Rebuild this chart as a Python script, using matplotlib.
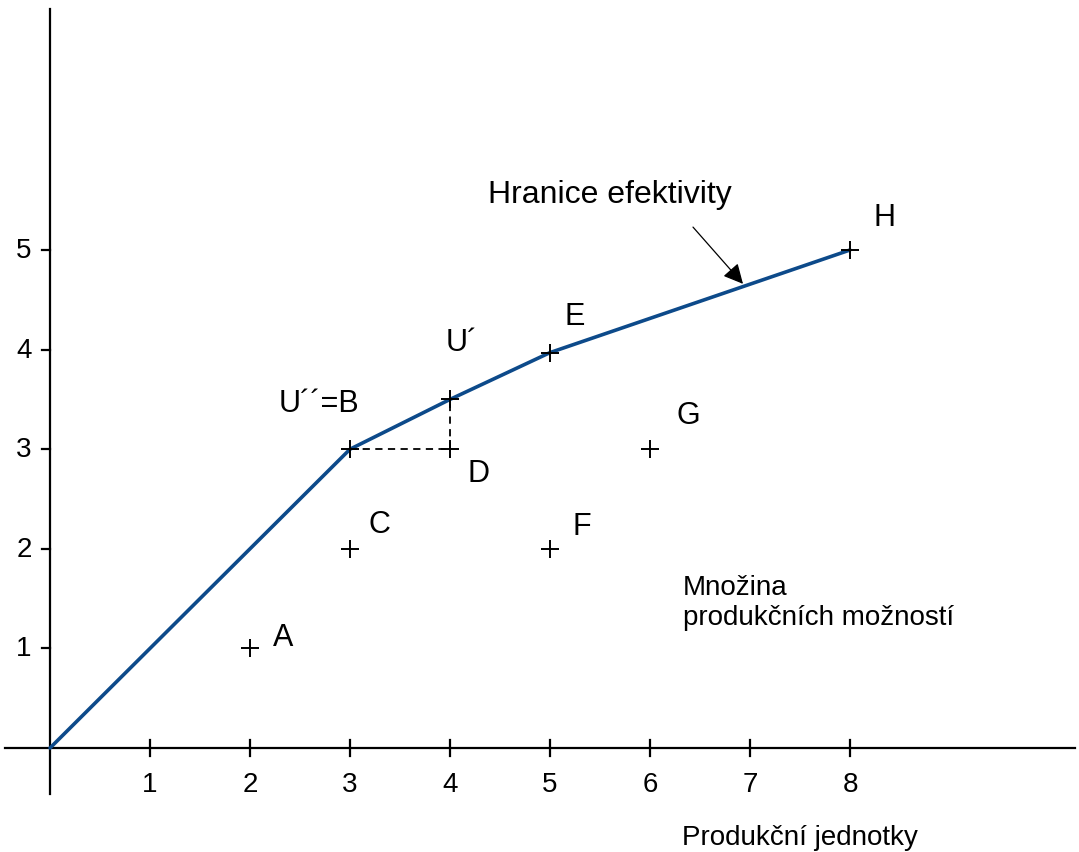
import matplotlib.pyplot as plt

plt.rcParams['font.family'] = ['Liberation Sans', 'DejaVu Sans']

# efficiency frontier
frontier_x = [0, 3, 4, 5, 8]
frontier_y = [0, 3, 3.5, 3.97, 5]

# labelled points
point_names = ['A', 'C', 'D', 'F', 'G', 'U´´=B', 'U´', 'E', 'H']
point_x = [2, 3, 4, 5, 6, 3, 4, 5, 8]
point_y = [1, 2, 3, 2, 3, 3, 3.5, 3.97, 5]
label_x = [2.33, 3.29, 4.28, 5.32, 6.38, 2.69, 4.12, 5.25, 8.34]
label_y = [1.11, 2.25, 2.76, 2.23, 3.34, 3.46, 4.08, 4.34, 5.33]

x_ticks = [1, 2, 3, 4, 5, 6, 7, 8]
y_ticks = [1, 2, 3, 4, 5]

fig = plt.figure(figsize=(10.79, 8.53), dpi=100)
ax = fig.add_axes([0, 0, 1, 1])
ax.set_xlim(-0.5, 10.29)
ax.set_ylim(-1.044, 7.52)
ax.axis('off')

# axes
ax.plot([-0.45, 10.25], [0, 0], color='black', lw=1.6)
ax.plot([0, 0], [-0.46, 7.42], color='black', lw=1.6)
for t in x_ticks:
    ax.plot([t, t], [-0.08, 0.08], color='black', lw=1.6)
    ax.text(t, -0.36, str(t), ha='center', va='center', fontsize=20)
for t in y_ticks:
    ax.plot([-0.08, 0.0], [t, t], color='black', lw=1.6)
    ax.text(-0.26, t, str(t), ha='center', va='center', fontsize=20)

# dashed helper lines
ax.plot([3, 4], [3, 3], color='black', lw=1.3, ls=(0, (4, 3)))
ax.plot([4, 4], [3, 3.5], color='black', lw=1.3, ls=(0, (4, 3)))

ax.plot(frontier_x, frontier_y, color='#0d4a8a', lw=2.6, solid_capstyle='round')
ax.plot(point_x, point_y, ls='none', marker='+', ms=13, mew=1.4, color='black')

for name, lx, ly in zip(point_names, label_x, label_y):
    ax.text(lx, ly, name, ha='center', va='center', fontsize=22)

ax.text(5.6, 5.56, 'Hranice efektivity', ha='center', va='center', fontsize=23)
ax.annotate('', xy=(6.93, 4.66), xytext=(6.43, 5.23),
            arrowprops=dict(arrowstyle='-|>', color='black', lw=0.9,
                            mutation_scale=30, shrinkA=0, shrinkB=0))

ax.text(6.33, 1.47, 'Množina\nprodukčních možností', ha='left', va='center',
        fontsize=20, linespacing=1.2)
ax.text(7.5, -0.89, 'Produkční jednotky', ha='center', va='center', fontsize=20)

fig.savefig('out.png', dpi=100)
